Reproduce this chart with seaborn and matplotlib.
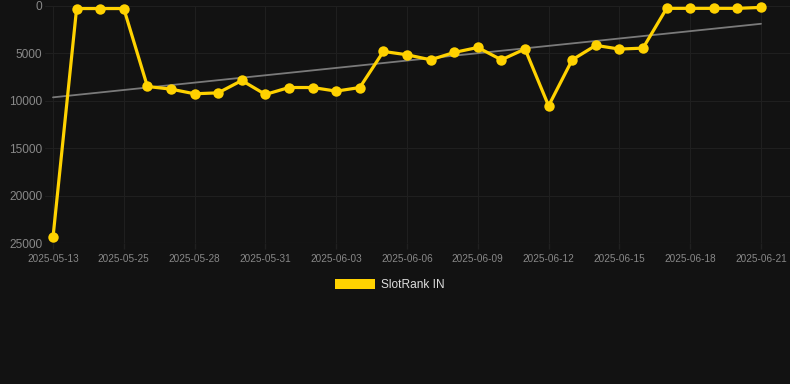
import matplotlib
matplotlib.use("Agg")
import matplotlib.pyplot as plt
from matplotlib.patches import Patch
import seaborn as sns
import numpy as np
import pandas as pd

dates = ["2025-05-13", "2025-05-23", "2025-05-24", "2025-05-25", "2025-05-26",
         "2025-05-27", "2025-05-28", "2025-05-29", "2025-05-30", "2025-05-31",
         "2025-06-01", "2025-06-02", "2025-06-03", "2025-06-04", "2025-06-05",
         "2025-06-06", "2025-06-07", "2025-06-08", "2025-06-09", "2025-06-10",
         "2025-06-11", "2025-06-12", "2025-06-13", "2025-06-14", "2025-06-15",
         "2025-06-16", "2025-06-17", "2025-06-18", "2025-06-19", "2025-06-20",
         "2025-06-21"]
rank = [24400, 300, 300, 300, 8510, 8790, 9280, 9180, 7880, 9350,
        8620, 8620, 9000, 8620, 4820, 5170, 5700, 4925, 4400, 5700,
        4560, 10550, 5700, 4180, 4570, 4470, 280, 280, 280, 280, 180]
y_ticks = [0, 5000, 10000, 15000, 20000, 25000]
series_name = "SlotRank IN"

df = pd.DataFrame({"idx": np.arange(len(dates)), "date": dates, "rank": rank})

bg = "#121212"
sns.set_theme(style="dark")
plt.rcParams["font.family"] = ["Liberation Sans", "DejaVu Sans"]

fig = plt.figure(figsize=(7.9, 3.84), dpi=100, facecolor=bg)
ax = fig.add_axes([45 / 790, 1 - 243 / 384, (790 - 45) / 790, (243 - 5.7) / 384])
ax.set_facecolor(bg)

sns.regplot(data=df, x="idx", y="rank", ax=ax, scatter=False, ci=None,
            truncate=True, line_kws={"color": "#7a7a7a", "lw": 1.3, "zorder": 2})
sns.lineplot(data=df, x="idx", y="rank", ax=ax, color="#FFD200", lw=2.3,
             marker="o", markersize=7.5, markeredgewidth=0, zorder=3,
             clip_on=False, legend=False)

ax.set_xlim(-8 / 23.6, (790 - 53) / 23.6)
ax.set_ylim(25000, 0)
ax.set_yticks(y_ticks)
ax.set_yticklabels([str(v) for v in y_ticks])
xt = list(range(0, len(dates), 3))
ax.set_xticks(xt)
ax.set_xticklabels([dates[i] for i in xt])
ax.tick_params(axis="y", colors="#888888", labelsize=8.6, length=0, pad=2)
ax.tick_params(axis="x", colors="#202020", labelcolor="#888888", labelsize=7.2,
               length=4, width=1, pad=4, bottom=True)
ax.grid(True, color="#1f1f1f", lw=0.8)
ax.set_xlabel("")
ax.set_ylabel("")
for s in ax.spines.values():
    s.set_visible(False)
ax.axhline(25000, color="#2c2c2c", lw=0.8, zorder=1)

leg = fig.legend(handles=[Patch(facecolor="#FFD200", edgecolor="none", label=series_name)],
                 loc="center", bbox_to_anchor=(390 / 790, 1 - 285 / 384),
                 frameon=False, fontsize=8.6, handlelength=3.3, handleheight=0.9,
                 handletextpad=0.5)
for t in leg.get_texts():
    t.set_color("#dddddd")

fig.savefig("out.png", dpi=100, facecolor=bg)
